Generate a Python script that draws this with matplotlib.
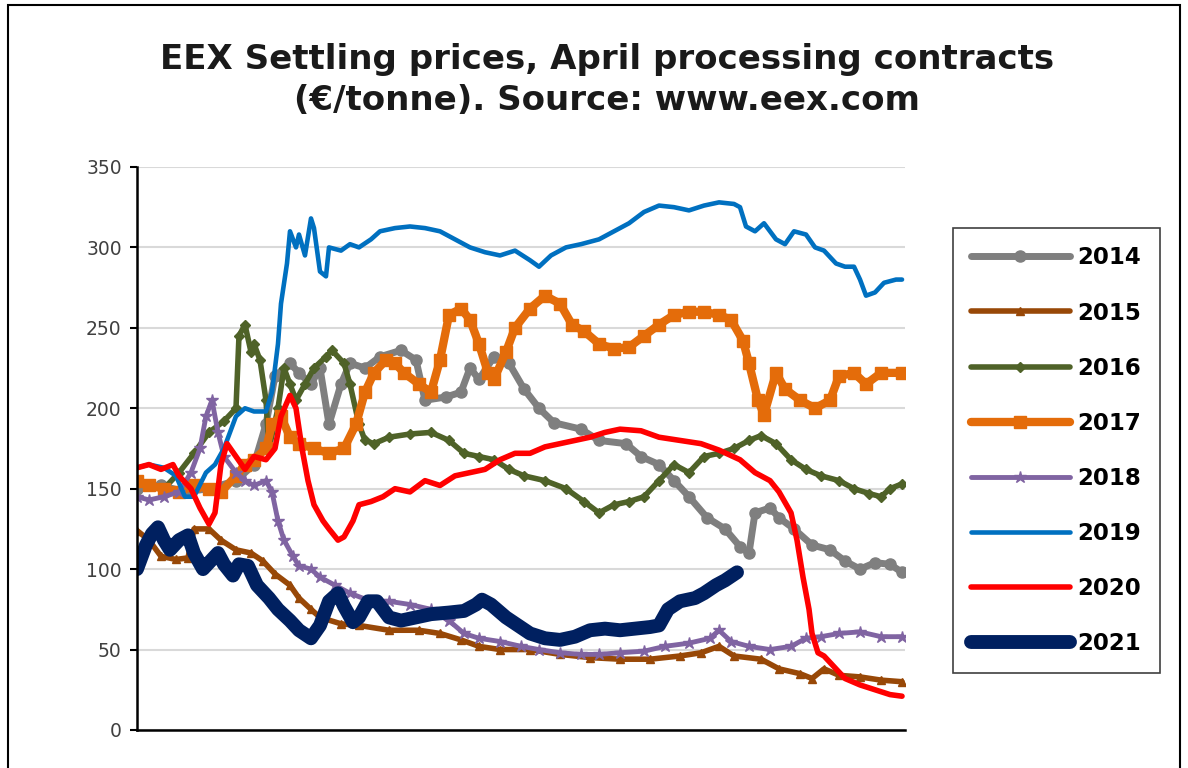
#!/usr/bin/env python3
import matplotlib
matplotlib.use('Agg')
import matplotlib.pyplot as plt
from matplotlib.patches import Rectangle

# settling prices, trading day -> EUR/tonne
d2014 = [0,8,16,24,33,39,43,46,51,54,58,61,64,68,71,76,81,88,93,96,103,108,111,114,119,124,129,134,139,148,154,163,168,174,179,184,190,196,201,204,206,211,214,219,225,231,236,241,246,251,255]
p2014 = [150,152,148,150,155,165,190,220,228,222,215,225,190,215,228,225,232,236,230,205,207,210,225,218,232,228,212,200,191,187,180,178,170,165,155,145,132,125,114,110,135,138,132,125,115,112,105,100,104,103,98]

d2015 = [0,4,8,13,17,19,24,28,33,38,42,46,51,54,58,61,68,74,84,94,101,108,114,121,131,141,151,161,171,181,188,194,199,208,214,221,225,229,234,241,248,255]
p2015 = [124,118,108,106,107,125,125,118,112,110,105,97,90,82,75,70,66,65,62,62,60,56,52,50,50,47,45,44,44,46,48,52,46,44,38,35,32,38,34,33,31,30]

d2016 = [9,14,19,24,29,33,34,36,38,39,41,43,44,47,49,51,53,56,59,63,65,69,71,74,76,79,84,91,98,104,109,114,119,124,129,136,143,149,154,159,164,169,174,179,184,189,194,199,204,208,213,218,223,228,234,239,244,248,251,255]
p2016 = [150,160,172,185,192,200,245,252,235,240,230,205,175,200,225,215,205,215,225,232,236,228,215,190,180,178,182,184,185,180,172,170,168,162,158,155,150,142,135,140,142,145,155,165,160,170,172,175,180,183,178,168,162,158,155,150,147,145,150,153]

d2017 = [0,4,9,14,19,24,28,33,36,39,43,45,48,51,54,59,64,69,73,76,79,83,86,89,94,98,101,104,108,111,114,117,119,123,126,131,136,141,145,149,154,159,164,169,174,179,184,189,194,198,202,204,207,209,213,216,221,226,231,234,239,243,248,255]
p2017 = [155,152,150,148,152,150,148,158,165,168,175,190,195,182,178,175,172,175,190,210,222,230,228,222,215,210,230,258,262,255,240,222,218,235,250,262,270,265,252,248,240,237,238,245,252,258,260,260,258,255,242,228,205,196,222,212,205,200,205,220,222,215,222,222]

d2018 = [0,4,9,14,18,21,23,25,27,29,33,36,39,43,45,47,49,52,54,58,61,66,71,78,84,91,98,104,109,114,121,128,134,141,148,154,161,169,176,184,191,194,198,204,211,218,223,228,234,241,248,255]
p2018 = [145,143,145,148,160,175,195,205,185,170,160,155,152,155,148,130,118,108,102,100,95,90,85,80,80,78,75,68,60,57,55,52,50,48,47,47,48,49,52,54,57,62,55,52,50,52,57,58,60,61,58,58]

d2019 = [0,4,9,13,16,19,23,26,29,33,36,39,43,45,47,48,50,51,53,54,56,58,59,61,63,64,68,71,74,78,81,86,91,96,101,106,111,116,121,126,131,134,138,143,148,154,159,164,169,174,179,184,189,194,199,201,203,206,209,213,216,219,223,226,229,233,236,239,241,243,246,249,253,255]
p2019 = [163,165,163,158,145,145,160,165,175,195,200,198,198,210,240,265,290,310,300,308,295,318,312,285,282,300,298,302,300,305,310,312,313,312,310,305,300,297,295,298,292,288,295,300,302,305,310,315,322,326,325,323,326,328,327,325,313,310,315,305,302,310,308,300,298,290,288,288,280,270,272,278,280,280]

d2020 = [0,4,8,12,14,18,21,24,26,28,30,33,36,39,43,46,48,51,53,55,57,59,62,64,67,69,72,74,78,82,86,91,96,101,106,111,116,121,126,131,136,141,146,151,156,161,168,174,181,188,194,201,206,211,214,218,220,222,224,225,227,229,232,236,241,246,251,255]
p2020 = [163,165,162,165,158,150,138,128,135,165,178,170,162,170,168,175,195,208,200,175,155,140,130,125,118,120,130,140,142,145,150,148,155,152,158,160,162,168,172,172,176,178,180,182,185,187,186,182,180,178,174,168,160,155,148,135,118,95,75,60,48,46,40,32,28,25,22,21]

d2021 = [0,3,5,7,9,11,14,17,19,22,24,27,29,32,34,37,40,44,47,51,54,58,61,64,67,69,72,74,77,80,84,88,93,98,104,109,113,115,118,123,127,131,136,141,146,151,156,161,166,171,174,177,181,186,189,193,196,200]
p2021 = [100,115,122,126,118,112,118,121,110,100,104,110,103,96,103,102,90,82,75,68,62,57,65,80,85,77,67,70,80,80,70,68,70,72,73,74,78,81,78,70,65,60,57,56,58,62,63,62,63,64,65,75,80,82,85,90,93,98]

yticks = [0, 50, 100, 150, 200, 250, 300, 350]

fig = plt.figure(figsize=(11.88, 7.68), dpi=100)
ax = fig.add_axes([0.1153, 0.0495, 0.6465, 0.7331])

# (label, days, prices, colour, linewidth, marker, markersize)
series = [
    ('2014', d2014, p2014, '#7F7F7F', 5, 'o', 8),
    ('2015', d2015, p2015, '#984807', 4, '^', 6),
    ('2016', d2016, p2016, '#4F6228', 4, 'D', 5),
    ('2017', d2017, p2017, '#E46C0A', 6, 's', 9),
    ('2018', d2018, p2018, '#8064A2', 3.5, '*', 9),
    ('2019', d2019, p2019, '#0070C0', 3.3, None, 0),
    ('2020', d2020, p2020, '#FF0000', 4, None, 0),
    ('2021', d2021, p2021, '#002060', 10, None, 0),
]
for lab, d, p, col, lw, mk, ms in series:
    ax.plot(d, p, label=lab, color=col, linewidth=lw, marker=mk, markersize=ms,
            solid_capstyle='round', solid_joinstyle='round')

ax.set_xlim(0, 256)
ax.set_ylim(0, 350)
ax.set_yticks(yticks)
ax.set_xticks([])
ax.grid(axis='y', color='#D9D9D9', linewidth=1.5)
ax.set_axisbelow(True)
for s in ['top', 'right']:
    ax.spines[s].set_visible(False)
ax.spines['left'].set_linewidth(1.8)
ax.spines['bottom'].set_linewidth(1.8)
ax.tick_params(axis='y', direction='out', length=5, width=1.5, labelsize=13.5,
               labelcolor='#404040', pad=6)

fig.text(0.511, 0.896, 'EEX Settling prices, April processing contracts\n(€/tonne). Source: www.eex.com',
         ha='center', va='center', fontsize=24.5, fontweight='bold', color='#1A1A1A',
         linespacing=1.32)

leg = fig.legend(loc='upper left', bbox_to_anchor=(0.802, 0.703),
                 prop={'weight': 'bold', 'size': 16.5}, handlelength=4.3,
                 handletextpad=0.35, labelspacing=1.4, borderpad=0.8,
                 borderaxespad=0, fancybox=False, framealpha=1)
leg.get_frame().set_edgecolor('#404040')
leg.get_frame().set_linewidth(1.2)

# outer chart border
fig.patches.append(Rectangle((0.0067, -0.1), 0.9866, 1.0935, transform=fig.transFigure,
                             fill=False, edgecolor='black', linewidth=1.5))

fig.savefig('out.png', dpi=100)
